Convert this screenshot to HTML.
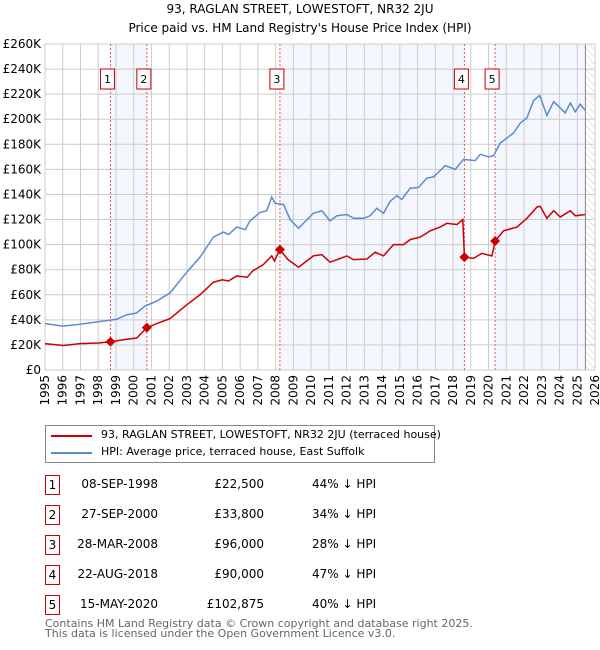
<!DOCTYPE html>
<html><head><meta charset="utf-8"><style>
body{margin:0;width:600px;height:650px;background:#fff;font-family:"DejaVu Sans","Liberation Sans",sans-serif;position:relative;overflow:hidden;color:#000}
.t{position:absolute;white-space:nowrap}
.box{position:absolute;width:13px;height:18px;border:1px solid #c00;font-size:12px;text-align:center;line-height:18px}
</style></head><body>
<div class="t" style="left:0;width:600px;text-align:center;top:2px;font-size:12px">93, RAGLAN STREET, LOWESTOFT, NR32 2JU</div>
<div class="t" style="left:0;width:600px;text-align:center;top:21px;font-size:12px">Price paid vs. HM Land Registry's House Price Index (HPI)</div>
<svg id="chart" width="600" height="420" style="position:absolute;left:0;top:0" font-family="DejaVu Sans, Liberation Sans, sans-serif">
<defs><pattern id="hatch" width="5" height="5" patternUnits="userSpaceOnUse" patternTransform="rotate(-45)"><line x1="0" y1="0" x2="0" y2="5" stroke="#ccc" stroke-width="1"/></pattern></defs>
</svg>
<div style="position:absolute;left:45px;top:425px;width:388px;height:36px;border:1px solid #888">
<div style="position:absolute;left:5px;top:9px;width:41px;height:2px;background:#c00"></div>
<div class="t" style="left:55px;top:2px;font-size:11px">93, RAGLAN STREET, LOWESTOFT, NR32 2JU (terraced house)</div>
<div style="position:absolute;left:5px;top:26px;width:41px;height:2px;background:#5b8bd0"></div>
<div class="t" style="left:55px;top:19px;font-size:11px">HPI: Average price, terraced house, East Suffolk</div>
</div>
<div id="tbl"></div>
<div class="t" style="left:45px;top:619px;font-size:11px;color:#666;line-height:10px">Contains HM Land Registry data © Crown copyright and database right 2025.<br>This data is licensed under the Open Government Licence v3.0.</div>
<script>
const hpiYears=[1995,1996.03,1996.97,1998.01,1999.04,1999.6,2000.17,2000.64,2001.3,2002.05,2002.99,2003.74,2004.49,2005.06,2005.34,2005.81,2006.28,2006.56,2007.12,2007.5,2007.78,2007.97,2008.44,2008.82,2009.29,2010.13,2010.6,2011.07,2011.45,2012.01,2012.39,2012.95,2013.33,2013.7,2014.08,2014.45,2014.83,2015.11,2015.58,2016.05,2016.52,2016.9,2017.56,2018.12,2018.59,2019.25,2019.53,2020.0,2020.28,2020.66,2021.03,2021.41,2021.79,2022.16,2022.54,2022.88,2023.29,2023.67,2024.04,2024.32,2024.61,2024.89,2025.17,2025.45];
const hpiValues=[37,35,36.5,38.5,40.5,44,45.5,51,55,61.5,78,90,106,110,108,114,112,119,125.7,127,138,133,132,120,113,125,127,119,123,124,121,121,123,129,125,134.5,139,136,145,145.5,153,154,163,160,168,167,172,170,171,181,185,189,197,201,215,219,203,214,209,205,213,206,212,207];
const ppYears=[1995,1996.03,1996.97,1998.01,1998.69,1999.6,2000.17,2000.74,2001.3,2002.05,2002.99,2003.74,2004.49,2005.0,2005.34,2005.81,2006.4,2006.7,2007.3,2007.78,2007.93,2008.24,2008.7,2009.29,2010.13,2010.6,2011.07,2011.64,2012.01,2012.39,2013.14,2013.61,2014.08,2014.64,2015.21,2015.58,2016.15,2016.71,2017.27,2017.65,2018.21,2018.55,2018.64,2019.15,2019.62,2020.19,2020.37,2020.85,2021.6,2022.16,2022.73,2022.91,2023.29,2023.67,2024.04,2024.61,2024.89,2025.45];
const ppValues=[21,19.5,21,21.5,22.5,24.5,25.5,33.8,37,41,52,60,70,72,71,75,74,79,84,91,87,96,88,82,91,92,86,89,91,88,88.5,94,91,100,100,104,106,111,114,117,116,120,90,89,93,91,102.875,111,114,121,130,130.5,121,127,122,127,123,124];
const saleYears=[1998.69,2000.74,2008.24,2018.64,2020.37];
const saleValues=[22.5,33.8,96,90,102.875];
const saleLabels=["1","2","3","4","5"];
const saleDates=["08-SEP-1998","27-SEP-2000","28-MAR-2008","22-AUG-2018","15-MAY-2020"];
const salePrices=["£22,500","£33,800","£96,000","£90,000","£102,875"];
const saleHpi=["44% ↓ HPI","34% ↓ HPI","28% ↓ HPI","47% ↓ HPI","40% ↓ HPI"];
const yTicks=[0,20,40,60,80,100,120,140,160,180,200,220,240,260];
const xTicks=[1995,1996,1997,1998,1999,2000,2001,2002,2003,2004,2005,2006,2007,2008,2009,2010,2011,2012,2013,2014,2015,2016,2017,2018,2019,2020,2021,2022,2023,2024,2025,2026];
const dataEnd=2025.46;
const X0=45,X1=595,Y0=370,Y1=44;
const xs=y=>X0+(y-1995)/31*(X1-X0);
const ys=v=>Y0-v/260*(Y0-Y1);
const svg=document.getElementById('chart');const NS='http://www.w3.org/2000/svg';
function mk(t,a,p){const e=document.createElementNS(NS,t);for(const k in a)e.setAttribute(k,a[k]);(p||svg).appendChild(e);return e;}
const shadePairs=[[saleYears[0],saleYears[1]],[saleYears[2],saleYears[3]],[saleYears[4],dataEnd]];
shadePairs.forEach((p,i)=>{const r=mk('rect',{x:xs(p[0]),y:Y1,width:xs(p[1])-xs(p[0]),height:Y0-Y1,fill:'#f3f6fd'});

});
const h=mk('rect',{x:xs(dataEnd),y:Y1,width:X1-xs(dataEnd),height:Y0-Y1,fill:'url(#hatch)'});


yTicks.forEach(v=>{const l=mk('line',{x1:X0,x2:X1,y1:ys(v),y2:ys(v),stroke:'#ccc'});


const t=mk('text',{x:X0-4,y:ys(v)+4,'text-anchor':'end','font-size':'12'});t.textContent=v==0?'£0':'£'+v+'K';

});
xTicks.forEach(yr=>{const l=mk('line',{x1:xs(yr),x2:xs(yr),y1:Y1,y2:Y0,stroke:'#ccc'});


const t=mk('text',{x:0,y:0,'font-size':'12','text-anchor':'end',transform:`translate(${xs(yr)+4},${Y0+5}) rotate(-90)`});t.textContent=yr;

});
const el=mk('line',{x1:xs(dataEnd),x2:xs(dataEnd),y1:Y1,y2:Y0,stroke:'#888'});


const fr=mk('rect',{x:X0,y:Y1,width:X1-X0,height:Y0-Y1,fill:'none',stroke:'#ccc'});


saleYears.forEach((yr,i)=>{const l=mk('line',{x1:xs(yr),x2:xs(yr),y1:Y1,y2:Y0,stroke:'#e55','stroke-dasharray':'2,2'});

});
const hp=mk('polyline',{points:hpiYears.map((y,i)=>xs(y)+','+ys(hpiValues[i])).join(' '),fill:'none',stroke:'#5b8bd0','stroke-width':1.5});


const pp=mk('polyline',{points:ppYears.map((y,i)=>xs(y)+','+ys(ppValues[i])).join(' '),fill:'none',stroke:'#c00','stroke-width':1.5});


saleYears.forEach((yr,i)=>{const x=xs(yr),y=ys(saleValues[i]);
const d=mk('polygon',{points:`${x},${y-5} ${x+5},${y} ${x},${y+5} ${x-5},${y}`,fill:'#c00'});


const b=mk('rect',{x:x-10,y:69,width:14,height:20,fill:'#fff',stroke:'#c00'});


const t=mk('text',{x:x-3,y:83,'text-anchor':'middle','font-size':'11'});t.textContent=saleLabels[i];

});
const tbl=document.getElementById('tbl');
saleLabels.forEach((s,i)=>{const top=475+i*30;
const row=document.createElement('div');


row.innerHTML=`<div class="box" style="left:45px;top:${top}px">${s}</div>
<div class="t" style="left:40px;width:118px;text-align:right;top:${top+2}px;font-size:12px">${saleDates[i]}</div>
<div class="t" style="left:160px;width:104px;text-align:right;top:${top+2}px;font-size:12px">${salePrices[i]}</div>
<div class="t" style="left:312px;top:${top+2}px;font-size:12px">${saleHpi[i]}</div>`;
tbl.appendChild(row);});
</script>
</body></html>
